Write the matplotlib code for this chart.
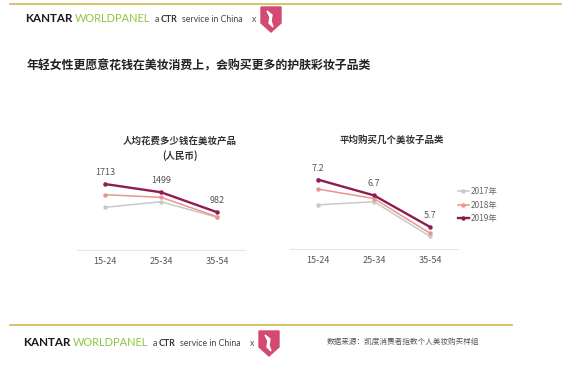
import matplotlib.pyplot as plt
from matplotlib.patches import Polygon
from matplotlib.lines import Line2D
import numpy as np

# data
ages = ["15-24", "25-34", "35-54"]
years = ["2017年", "2018年", "2019年"]
spend_2017 = [1108, 1253, 849]
spend_2018 = [1435, 1368, 864]
spend_2019 = [1713, 1499, 982]
cats_2017 = [6.4, 6.5, 5.4]
cats_2018 = [6.9, 6.6, 5.5]
cats_2019 = [7.2, 6.7, 5.7]

colors = ["#c9c9c9", "#e9968c", "#8c1c52"]
widths = [1.1, 1.1, 1.7]

plt.rcParams['font.family'] = ['Noto Sans CJK SC', 'DejaVu Sans']

W, H = 562, 367
fig = plt.figure(figsize=(W / 100, H / 100), dpi=100)


def fx(px):
    return px / W


def fy(py):
    return 1 - py / H


def logo(y, x0):
    fig.text(fx(x0), fy(y), "KANTAR", fontsize=8.4, fontweight="bold", color="#1a1a1a",
             family="Lato", va="center")
    fig.text(fx(x0 + 50), fy(y), "WORLDPANEL", fontsize=7.9, color="#8cc63f",
             family="Lato", va="center")
    fig.text(fx(x0 + 130), fy(y), "a", fontsize=6.3, color="#444444", family="Lato", va="center")
    fig.text(fx(x0 + 136), fy(y), "CTR", fontsize=6.3, fontweight="bold", color="#333333",
             family="Lato", va="center")
    fig.text(fx(x0 + 157), fy(y), "service in China", fontsize=6.3, color="#444444",
             family="Lato", va="center")
    fig.text(fx(x0 + 227), fy(y), "x", fontsize=6.3, color="#555555", family="Lato", va="center")
    sx = x0 + 236
    pts = [(sx, y - 12), (sx + 20, y - 12), (sx + 20, y + 4), (sx + 10, y + 13), (sx, y + 4)]
    fig.add_artist(Polygon([(fx(a), fy(b)) for a, b in pts], closed=True,
                           transform=fig.transFigure, color="#d24a72"))
    sw = [(sx + 6, y - 8), (sx + 9, y - 2), (sx + 8, y + 4), (sx + 12, y + 8), (sx + 10, y + 2), (sx + 11, y - 4)]
    fig.add_artist(Polygon([(fx(a), fy(b)) for a, b in sw], closed=True,
                           transform=fig.transFigure, color="white"))


# gold rules
fig.add_artist(Line2D([fx(10), fx(562)], [fy(4), fy(4)], color="#d6bd62", lw=1.3))
fig.add_artist(Line2D([fx(10), fx(512)], [fy(325), fy(325)], color="#d6bd62", lw=1.3))

logo(19, 25)
logo(343, 23)

fig.text(fx(27), fy(66), "年轻女性更愿意花钱在美妆消费上，会购买更多的护肤彩妆子品类",
         fontsize=8.6, fontweight="bold", color="#222222", va="center")
fig.text(fx(327), fy(342), "数据来源：凯度消费者指数个人美妆购买样组",
         fontsize=5.5, color="#555555", va="center")


def panel(left, bottom_px, top_px, ylim, series, labels, fmt):
    ax = fig.add_axes([fx(left), fy(bottom_px), fx(168), (bottom_px - top_px) / H])
    x = np.arange(len(ages))
    for vals, c, lw, name in zip(series, colors, widths, years):
        ax.plot(x, vals, color=c, lw=lw, marker="o", ms=2.2, label=name)
    for xi, v in zip(x, labels):
        ax.annotate(fmt.format(v), (xi, v), xytext=(0, 5), textcoords="offset points",
                    ha="center", va="bottom", fontsize=6.5, color="#555555")
    ax.set_xlim(-0.5, 2.5)
    ax.set_ylim(*ylim)
    ax.set_xticks(x)
    ax.set_xticklabels(ages, fontsize=6.5, color="#555555")
    ax.tick_params(length=0, pad=5)
    ax.set_yticks([])
    for s in ["top", "left", "right"]:
        ax.spines[s].set_visible(False)
    ax.spines["bottom"].set_color("#e6e6e6")
    ax.patch.set_alpha(0)
    return ax


ax1 = panel(77, 250, 153.7, (0, 2500), [spend_2017, spend_2018, spend_2019], spend_2019, "{:d}")
ax2 = panel(290, 249, 154.4, (5, 8), [cats_2017, cats_2018, cats_2019], cats_2019, "{:.1f}")

fig.text(fx(180), fy(141), "人均花费多少钱在美妆产品", fontsize=6.8, fontweight="bold",
         color="#333333", ha="center", va="center")
fig.text(fx(180), fy(156), "(人民币)", fontsize=6.8, fontweight="bold",
         color="#333333", ha="center", va="center")
fig.text(fx(392), fy(140), "平均购买几个美妆子品类", fontsize=6.8, fontweight="bold",
         color="#333333", ha="center", va="center")

ax2.legend(loc="upper left", bbox_to_anchor=(fx(458), fy(187)), bbox_transform=fig.transFigure,
           frameon=False, fontsize=6, labelcolor="#666666", handlelength=1.3, handletextpad=0.2,
           labelspacing=0.55, borderaxespad=0, borderpad=0)

fig.savefig("out.png", dpi=100)
